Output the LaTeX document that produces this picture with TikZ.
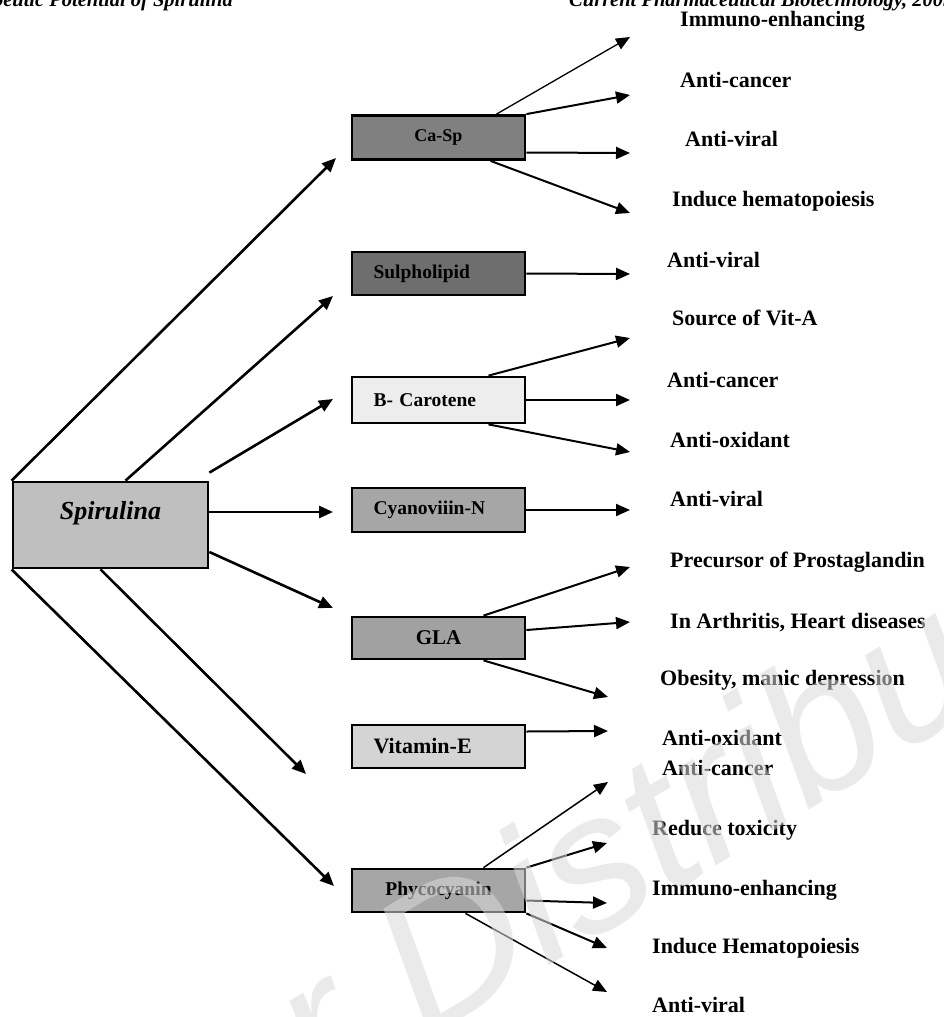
\documentclass[tikz,border=0pt]{standalone}
\usepackage{fontspec}
\setmainfont{Liberation Serif}
\newfontfamily\wmfont{Liberation Sans}
\usetikzlibrary{arrows.meta}

\begin{document}
\begin{tikzpicture}[
  x=1pt, y=-1pt,
  box/.style={draw, line width=2.8pt, minimum width=173pt, minimum height=44pt, inner sep=2pt, font=\fontsize{19.5}{21}\selectfont\bfseries},
  lbox/.style={box, text width=130pt, align=left},
  res/.style={anchor=west, inner sep=0pt, text height=15pt, text depth=4pt, font=\fontsize{22}{24}\selectfont\bfseries},
  head/.style={inner sep=0pt, font=\fontsize{20.5}{22}\selectfont\bfseries\itshape},
  arr/.style={line width=2pt, -{Triangle[length=14pt,width=12pt]}},
  main/.style={arr, line width=2.6pt}
]
\useasboundingbox (0,0) rectangle (944,1017);
\clip (0,0) rectangle (944,1017);

\node[head, anchor=base east] (headl) at (233,6) {Therapeutic Potential of Spirulina};
\node[head, anchor=base west] (headr) at (569,6) {Current Pharmaceutical Biotechnology, 2005};

\node[box, fill=black!25, minimum width=195pt, minimum height=86pt, text height=20pt, text depth=32pt, font=\fontsize{26}{28}\selectfont\bfseries\itshape] (spirulina) at (110.5,525) {Spirulina};

\node[box, fill=black!50, font=\fontsize{18}{20}\selectfont\bfseries] (casp) at (438.5,137.5) {Ca-Sp};
\node[lbox, fill=black!57, minimum height=43pt] (sulph) at (438.5,273.5) {Sulpholipid};
\node[lbox, fill=black!7, minimum height=46pt] (bcar) at (438.5,400) {B- Carotene};
\node[lbox, fill=black!35] (cyano) at (438.5,510) {Cyanoviiin-N};
\node[box, fill=black!37, minimum height=42pt, font=\fontsize{21}{23}\selectfont\bfseries] (gla) at (438.5,638) {GLA};
\node[lbox, fill=black!17, minimum height=43pt, font=\fontsize{22}{24}\selectfont\bfseries] (vite) at (438.5,746.5) {Vitamin-E};
\node[box, fill=black!35, minimum height=43pt] (phyco) at (438.5,890.5) {Phycocyanin};

\node[res] (ca1) at (680,21) {Immuno-enhancing};
\node[res] (ca2) at (680,82) {Anti-cancer};
\node[res] (ca3) at (685,141) {Anti-viral};
\node[res] (ca4) at (672,201) {Induce hematopoiesis};
\node[res] (su1) at (667,262) {Anti-viral};
\node[res] (bc1) at (672,320) {Source of Vit-A};
\node[res] (bc2) at (667,382) {Anti-cancer};
\node[res] (bc3) at (670,442) {Anti-oxidant};
\node[res] (cy1) at (670,501) {Anti-viral};
\node[res] (gl1) at (670,562) {Precursor of Prostaglandin};
\node[res] (gl2) at (670,623) {In Arthritis, Heart diseases};
\node[res] (gl3) at (660,680) {Obesity, manic depression};
\node[res] (ve1) at (662,740) {Anti-oxidant};
\node[res] (ph1) at (662,770) {Anti-cancer};
\node[res] (ph2) at (652,830) {Reduce toxicity};
\node[res] (ph3) at (652,890) {Immuno-enhancing};
\node[res] (ph4) at (652,948) {Induce Hematopoiesis};
\node[res] (ph5) at (652,1007) {Anti-viral};

\coordinate (tcasp) at (336,158);
\coordinate (tsulph) at (333,296);
\coordinate (tbcar) at (333,399);
\coordinate (tcyano) at (333,512);
\coordinate (tgla) at (333,608);
\coordinate (tvite) at (306,774);
\coordinate (tphyco) at (334,886);

\draw[main] (spirulina.north west) -- (tcasp);
\draw[main] ([xshift=15pt]spirulina.north) -- (tsulph);
\draw[main] ([yshift=8pt]spirulina.north east) -- (tbcar);
\draw[main] ([yshift=13pt]spirulina.east) -- (tcyano);
\draw[main] ([yshift=-27pt]spirulina.east) -- (tgla);
\draw[main] ([xshift=-10pt]spirulina.south) -- (tvite);
\draw[main] (spirulina.south west) -- (tphyco);

\coordinate (ca1t) at (630,37);
\coordinate (ca2t) at (630,95);
\coordinate (ca3t) at (630,153);
\coordinate (ca4t) at (630,213);
\coordinate (su1t) at (630,274);
\coordinate (bc1t) at (630,338);
\coordinate (bc2t) at (630,400);
\coordinate (bc3t) at (630,452);
\coordinate (cy1t) at (630,510);
\coordinate (gl1t) at (630,567);
\coordinate (gl2t) at (630,622);
\coordinate (gl3t) at (608,697);
\coordinate (ve1t) at (608,731);
\coordinate (ph1t) at (608,782);
\coordinate (ph2t) at (607,843);
\coordinate (ph3t) at (607,903);
\coordinate (ph4t) at (607,948);
\coordinate (ph5t) at (607,992);

\draw[arr, line width=1.3pt] ([xshift=58pt]casp.north) -- (ca1t);
\draw[arr] (casp.north east) -- (ca2t);
\draw[arr] ([yshift=-15pt]casp.east) -- (ca3t);
\draw[arr] ([xshift=52pt]casp.south) -- (ca4t);
\draw[arr] (sulph.east) -- (su1t);
\draw[arr] ([xshift=50pt]bcar.north) -- (bc1t);
\draw[arr] (bcar.east) -- (bc2t);
\draw[arr] ([xshift=50pt]bcar.south) -- (bc3t);
\draw[arr] (cyano.east) -- (cy1t);
\draw[arr] ([xshift=45pt]gla.north) -- (gl1t);
\draw[arr] ([yshift=8pt]gla.east) -- (gl2t);
\draw[arr] ([xshift=45pt]gla.south) -- (gl3t);
\draw[arr] ([yshift=15pt]vite.east) -- (ve1t);
\draw[arr, line width=1.5pt] ([xshift=45pt]phyco.north) -- (ph1t);
\draw[arr] (phyco.north east) -- (ph2t);
\draw[arr] ([yshift=-10pt]phyco.east) -- (ph3t);
\draw[arr] (phyco.south east) -- (ph4t);
\draw[arr, line width=1.5pt] ([xshift=27pt]phyco.south) -- (ph5t);

\node[anchor=base west, rotate=31, inner sep=0pt, text=black!15, text opacity=0.55, font=\fontsize{195}{195}\selectfont\wmfont\itshape] (mark) at (-178,1403) {Not For Distribution};
\end{tikzpicture}
\end{document}
